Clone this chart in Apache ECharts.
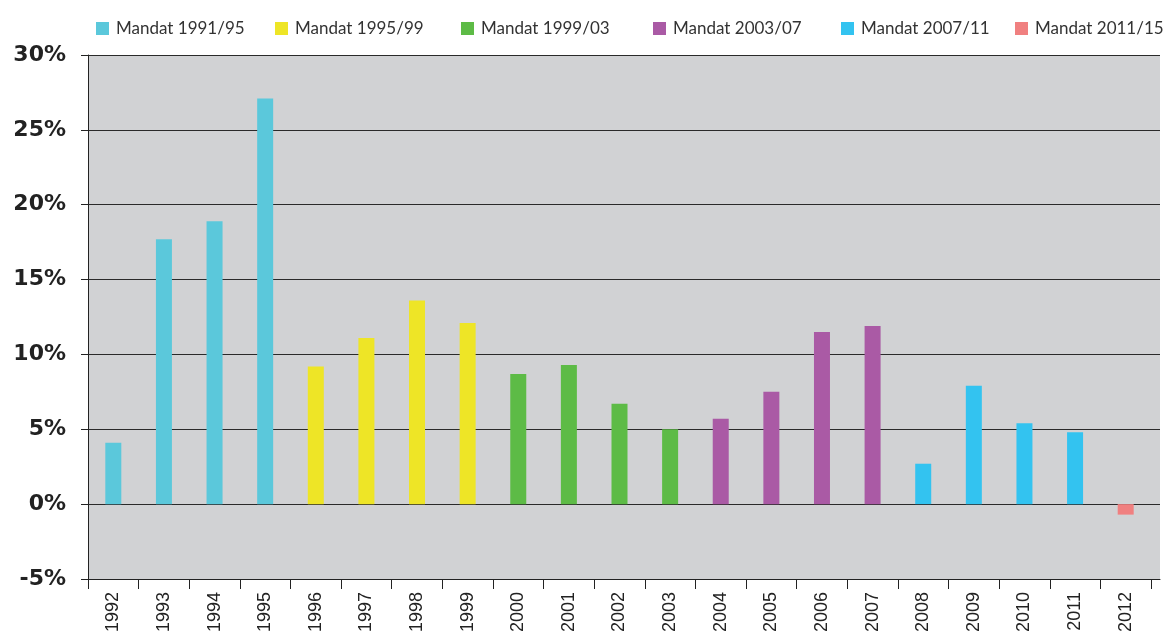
<!DOCTYPE html>
<html>
<head>
<meta charset="utf-8">
<script src="https://cdn.jsdelivr.net/npm/echarts@6/dist/echarts.min.js"></script>
<style>html,body{margin:0;padding:0;background:#fff}#c{width:1165px;height:631px}</style>
</head>
<body>
<div id="c"></div>
<script>
const years = ['1992','1993','1994','1995','1996','1997','1998','1999','2000','2001','2002','2003','2004','2005','2006','2007','2008','2009','2010','2011','2012'];
const growth = [4.1,17.7,18.9,27.1,9.2,11.1,13.6,12.1,8.7,9.3,6.7,5.0,5.7,7.5,11.5,11.9,2.7,7.9,5.4,4.8,-0.7];
const mandateOfYear = [0,0,0,0,1,1,1,1,2,2,2,2,3,3,3,3,4,4,4,4,5];
const mandates = ['Mandat 1991/95','Mandat 1995/99','Mandat 1999/03','Mandat 2003/07','Mandat 2007/11','Mandat 2011/15'];
const colors = ['#5bc8db','#eee526','#5dbb46','#aa5aa5','#33c3f0','#f08080'];
const yTicks = [-5,0,5,10,15,20,25,30];

const legendLeft = [91,270,456,648,836,1010];

const chart = echarts.init(document.getElementById('c'));
const series = mandates.map((m,i)=>({
  name:m, type:'bar', xAxisIndex:1, yAxisIndex:1,
  barWidth:16, barGap:'-100%', itemStyle:{color:colors[i]},
  data: growth.map((v,j)=> mandateOfYear[j]===i ? v : '-')
}));
chart.setOption({
  animation:false,
  legend: mandates.map((m,i)=>({
    data:[m], left:legendLeft[i], top:15, itemWidth:13, itemHeight:13, icon:'rect', itemGap:0,
    textStyle:{fontFamily:'Lato', fontSize:17, color:'#333', padding:[0,0,0,2]}
  })),
  grid:[
    {left:88, right:5, top:55, bottom:52, show:true, backgroundColor:'#d1d2d4', borderWidth:0, outerBoundsMode:'none', containLabel:false},
    {left:88, right:14, top:55, bottom:52, outerBoundsMode:'none', containLabel:false}
  ],
  xAxis:[
    {type:'value', gridIndex:0, min:0, max:1,
     axisLine:{show:true, onZero:false, lineStyle:{color:'#222'}},
     axisTick:{show:false}, axisLabel:{show:false}, splitLine:{show:false}},
    {type:'category', gridIndex:1, data:years, boundaryGap:true,
     axisLine:{show:false, onZero:false},
     axisTick:{show:true, length:10, alignWithLabel:false, lineStyle:{color:'#222'}},
     axisLabel:{rotate:90, margin:13, fontFamily:'Liberation Sans', fontSize:18, color:'#222'}}
  ],
  yAxis:[
    {type:'value', gridIndex:0, min:-5, max:30, interval:5,
     axisLine:{show:true, onZero:false, lineStyle:{color:'#222'}},
     axisTick:{show:true, length:7, lineStyle:{color:'#222'}},
     splitLine:{show:true, lineStyle:{color:'#2a2a2a', width:1}},
     axisLabel:{margin:22, formatter:'{value}%', fontFamily:'DejaVu Sans', fontWeight:'bold', fontSize:22, color:'#222'}},
    {type:'value', gridIndex:1, min:-5, max:30, interval:5, show:false}
  ],
  series: series
});
</script>
</body>
</html>
